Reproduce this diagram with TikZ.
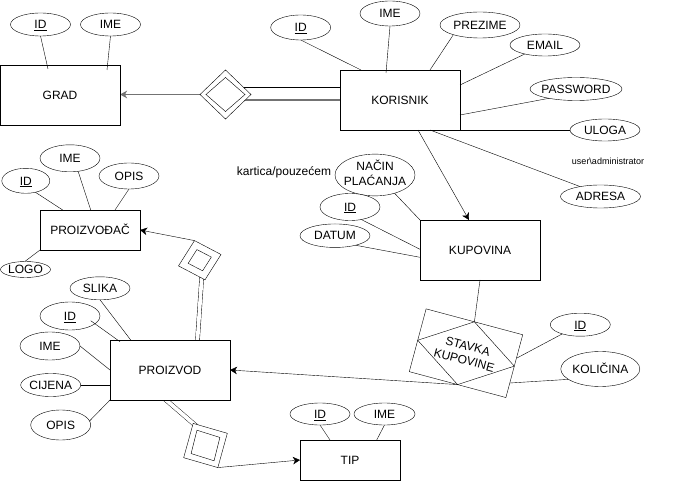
\documentclass[tikz,border=0pt]{standalone}
\usepackage{fontspec}
\setmainfont{Liberation Sans}
\usetikzlibrary{shapes.geometric,arrows.meta,backgrounds}
\newcommand{\mkz}[1]{\makebox[0pt]{#1}}
\begin{document}
\begin{tikzpicture}[x=1pt,y=-1pt,line width=1pt,
  every node/.style={font=\fontsize{12}{14.4}\selectfont,inner sep=0pt,outer sep=0pt},
  ent/.style={draw,fill=white,rectangle,text height=8.6pt,text depth=0pt},
  attr/.style={draw,fill=white,ellipse,text height=8.6pt,text depth=0pt},
  rel/.style={draw,fill=white,diamond},
  reli/.style={draw,diamond},
  arr/.style={-{Stealth[length=7pt,width=7.5pt,inset=2pt]}},
  grayline/.style={draw=black!55,line width=1.4pt},
  dbl/.style={double,double distance=3.7pt}]
\useasboundingbox (0,0) rectangle (691,481);
\begin{pgfonlayer}{background}
\fill[white] (0,0) rectangle (691,481);
\end{pgfonlayer}

% GRAD
\node[ent,minimum width=120pt,minimum height=60pt] (grad) at (60,95) {GRAD};
\node[attr,minimum width=60pt,minimum height=23pt] (gid) at (40.5,24.5) {\mkz{\underline{ID}}};
\node[attr,minimum width=60pt,minimum height=23pt] (gime) at (110.5,24.5) {\mkz{IME}};

% relation GRAD - KORISNIK
\node[rel,minimum width=51pt,minimum height=49pt] (rel1) at (225.5,94.5) {};
\node[reli,minimum width=39pt,minimum height=34pt] (rel1i) at (rel1.center) {};

% KORISNIK
\node[ent,minimum width=120pt,minimum height=60pt] (kor) at (400,100) {KORISNIK};
\node[attr,minimum width=60pt,minimum height=25pt] (kid) at (300.7,27.5) {\mkz{\underline{ID}}};
\node[attr,minimum width=60pt,minimum height=25pt] (kime) at (390,13.5) {\mkz{IME}};
\node[attr,minimum width=80pt,minimum height=26pt] (kprez) at (480,25) {\mkz{PREZIME}};
\node[attr,minimum width=70pt,minimum height=22pt] (kemail) at (545,45) {\mkz{EMAIL}};
\node[attr,minimum width=92pt,minimum height=23pt] (kpass) at (576,89) {\mkz{PASSWORD}};
\node[attr,minimum width=70pt,minimum height=22pt] (kuloga) at (605,130) {\mkz{ULOGA}};
\node[font=\fontsize{9}{11}\selectfont] (uloganote) at (608,161) {user\textbackslash administrator};
\node[attr,minimum width=80pt,minimum height=23pt] (kadr) at (600.5,196.5) {\mkz{ADRESA}};

% KUPOVINA
\node[ent,minimum width=120pt,minimum height=60pt] (kup) at (480,250) {KUPOVINA};
\node[draw,fill=white,ellipse,minimum width=80pt,minimum height=36pt] (pnacin) at (375,175)
  {\mkz{\begin{tabular}{@{}c@{}}NAČIN\\PLAĆANJA\end{tabular}}};
\node[attr,minimum width=60pt,minimum height=27pt] (pid) at (350,207) {\mkz{\underline{ID}}};
\node[attr,minimum width=70pt,minimum height=23.5pt] (pdatum) at (335,235.7) {\mkz{DATUM}};
\node (kartica) at (284,172) {kartica/pouzećem};

% STAVKA KUPOVINE
\node[draw,fill=white,rectangle,rotate=-15,minimum width=100pt,minimum height=65pt,align=center] (stavka) at (466,353.2) {STAVKA\\KUPOVINE};
\draw (stavka.north) -- (stavka.east) -- (stavka.south) -- (stavka.west) -- cycle;
\node[attr,minimum width=60pt,minimum height=23pt] (sid) at (580.3,324.7) {\mkz{\underline{ID}}};
\node[attr,minimum width=79pt,minimum height=35pt] (skol) at (600.3,369) {\mkz{KOLIČINA}};

% PROIZVODJAC
\node[ent,minimum width=100pt,minimum height=40pt] (pzv) at (90,230) {PROIZVOĐAČ};
\node[attr,minimum width=48pt,minimum height=25pt] (pzid) at (25.8,180.8) {\mkz{\underline{ID}}};
\node[attr,minimum width=60pt,minimum height=27pt] (pzime) at (70,158.3) {\mkz{IME}};
\node[attr,minimum width=60pt,minimum height=26pt] (pzopis) at (129,176) {\mkz{OPIS}};
\node[attr,minimum width=50pt,minimum height=16pt] (pzlogo) at (25.5,269.5) {\mkz{LOGO}};

% relation PROIZVODJAC - PROIZVOD
\node[rel,minimum width=44pt,minimum height=40.6pt,rotate=15] (rel2) at (199.75,260.2) {};
\node[reli,minimum width=24pt,minimum height=22pt,rotate=15] (rel2i) at (rel2.center) {};

% PROIZVOD
\node[ent,minimum width=120pt,minimum height=60pt] (prz) at (170,370) {PROIZVOD};
\node[attr,minimum width=60pt,minimum height=23pt] (przslika) at (100,288.3) {\mkz{SLIKA}};
\node[attr,minimum width=60pt,minimum height=28pt] (przid) at (70,316) {\mkz{\underline{ID}}};
\node[attr,minimum width=60pt,minimum height=28pt] (przime) at (50,346) {\mkz{IME}};
\node[attr,minimum width=60pt,minimum height=23pt] (przcij) at (50.7,385) {\mkz{CIJENA}};
\node[attr,minimum width=60pt,minimum height=30pt] (przopis) at (60.7,425) {\mkz{OPIS}};

% relation PROIZVOD - TIP
\node[rel,minimum width=50pt,minimum height=50.6pt,rotate=29.2] (rel3) at (205.5,445.5) {};
\node[reli,minimum width=33pt,minimum height=35pt,rotate=29.2] (rel3i) at (rel3.center) {};

% TIP
\node[ent,minimum width=100pt,minimum height=40pt] (tip) at (350,460) {TIP};
\node[attr,minimum width=60pt,minimum height=22pt] (tid) at (320,414) {\mkz{\underline{ID}}};
\node[attr,minimum width=61pt,minimum height=22pt] (time) at (384.5,414) {\mkz{IME}};

% connectors hidden partly under shapes
\begin{pgfonlayer}{background}
\draw[grayline,arr] (rel1.west) -- (rel1.west -| grad.east);
\draw ([yshift=6.8pt]rel1.center) -- ([yshift=6.8pt]rel1.center -| kor.west);
\draw[grayline] ([yshift=-5.5pt]rel1.center) -- ([yshift=-5.5pt]rel1.center -| kor.west);
\draw[dbl] ([shift={(2.55,8.8)}]rel2.center) -- ([shift={(27.5,-30)}]prz.center);
\draw[dbl] ([shift={(-7,27.4)}]prz.center) -- ([shift={(-7.5,-18)}]rel3.center);
\end{pgfonlayer}

% connectors
\draw (gid.south) -- ([shift={(-12,-26)}]grad.center);
\draw (gime.south) -- ([shift={(47,-25)}]grad.center);

\draw (kid.south) -- ([shift={(-39,-30)}]kor.center);
\draw (kime.south) -- ([shift={(-14,-27)}]kor.center);
\draw (kprez.200) -- ([shift={(30,-30)}]kor.center);
\draw (kemail.204) -- ([shift={(60,-15)}]kor.center);
\draw (kpass.199) -- ([shift={(60,15)}]kor.center);
\draw (kuloga.west) -- (kor.south east);
\draw (kadr.154) -- ([shift={(30,30)}]kor.center);
\draw[arr] ([shift={(18,30)}]kor.center) -- ([shift={(-11,-30)}]kup.center);

\draw (pnacin.317) -- (kup.north west);
\draw (pid.312) -- ([shift={(-60,-0.7)}]kup.center);
\draw (pdatum.335) -- ([shift={(-60,7.3)}]kup.center);

\draw (kup.south) -- (stavka.north);
\draw[arr] (stavka.south) -- (prz.east);
\draw (sid.207) -- ([shift={(51,4.8)}]stavka.center);
\draw (skol.198) -- ([shift={(44,29.8)}]stavka.center);

\draw (pzid.310) -- ([shift={(-27.3,-20)}]pzv.center);
\draw (pzime.302) -- ([shift={(0.7,-20)}]pzv.center);
\draw (pzopis.south) -- ([shift={(25,-20)}]pzv.center);
\draw (pzlogo.95) -- (pzv.south west);
\draw[arr] (rel2.north) -- (pzv.east);

\draw (przslika.south) -- ([shift={(-39.3,-30)}]prz.center);
\draw ([shift={(20.7,4.7)}]przid.center) -- ([shift={(-50,-28.3)}]prz.center);
\draw (przime.east) -- (prz.west);
\draw (przcij.east) -- ([shift={(-60,15)}]prz.center);
\draw (przopis.8) -- (prz.south west);

\draw[arr] (rel3.south) -- (tip.west);
\draw (tid.south) -- ([shift={(-20,-20)}]tip.center);
\draw (time.south) -- ([shift={(26.7,-20)}]tip.center);
\end{tikzpicture}
\end{document}
